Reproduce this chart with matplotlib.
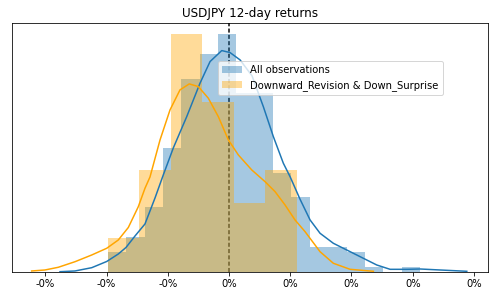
import numpy as np
import matplotlib
matplotlib.use('Agg')
import matplotlib.pyplot as plt
from matplotlib.ticker import FuncFormatter
from matplotlib.patches import Patch

# ============================================================
# 데이터 (12일 수익률 분포, 그림에서 읽은 값)
# ============================================================
title = 'USDJPY 12-day returns'
label_all = 'All observations'
label_sub = 'Downward_Revision & Down_Surprise'

# 전체 관측치 히스토그램 (밀도)
all_bin_lo, all_bin_hi = -0.00198, 0.00312
all_density = [44, 77, 143, 275, 429, 484, 528, 396, 396, 220, 165, 55, 55, 44, 11, 0, 11]

# 부분집합 히스토그램 (밀도)
sub_bin_lo, sub_bin_hi = -0.00198, 0.00111
sub_density = [74, 226, 528, 376, 152, 226]

# KDE 곡선
all_kde_x = [-2.761, -2.516, -2.243, -1.998, -1.809, -1.683, -1.536, -1.373, -1.209,
             -1.074, -0.910, -0.691, -0.474, -0.310, -0.119, 0.016, 0.180, 0.376,
             0.560, 0.724, 0.887, 0.997, 1.160, 1.324, 1.487, 1.704, 1.923, 2.194,
             2.413, 2.631, 2.904, 3.121, 3.448, 3.884]
all_kde_y = [0, 1.6, 8.9, 22.7, 39.3, 53.8, 79.3, 106, 163.8, 214.9, 274.9, 344.4,
             418.7, 466.7, 491.1, 486.7, 470.4, 434.9, 366.7, 300, 240.9, 211.1,
             160.9, 114.9, 85.3, 63.1, 48.2, 29.8, 14.9, 5.3, 5.3, 6.0, 3.8, 0.9]

sub_kde_x = [-3.224, -3.007, -2.789, -2.516, -2.243, -1.998, -1.809, -1.645, -1.482,
             -1.373, -1.291, -1.127, -0.964, -0.801, -0.649, -0.502, -0.338, -0.175,
             -0.011, 0.152, 0.371, 0.588, 0.752, 0.915, 1.078, 1.242, 1.487, 1.704,
             1.977, 2.358]
sub_kde_y = [1.6, 3.8, 9.8, 22.2, 37.1, 52.0, 70.4, 98.2, 144.4, 185.3, 210.4, 292.7,
             359.3, 403.8, 417.1, 411.1, 385.3, 344.4, 292.7, 259.3, 226.0, 200,
             177.8, 148.2, 114.9, 88.9, 44.4, 18.7, 5.3, 0.9]

# KDE x 값은 1/1000 단위로 읽음
all_kde_x = np.array(all_kde_x) / 1000
sub_kde_x = np.array(sub_kde_x) / 1000

c_all = '#1f77b4'
c_sub = 'orange'

# ============================================================
# 시각화
# ============================================================
fig = plt.figure(figsize=(498 / 72, 296 / 72), dpi=72)
ax = fig.add_axes([0.0235, 0.0821, 0.9564, 0.8412])

ax.axvline(0, color='black', linestyle=(0, (2.7, 1.5)), linewidth=1.5, zorder=0.9)

all_edges = np.linspace(all_bin_lo, all_bin_hi, len(all_density) + 1)
ax.bar(all_edges[:-1], all_density, width=np.diff(all_edges), align='edge',
       color=c_all, alpha=0.4, linewidth=0)
ax.plot(all_kde_x, all_kde_y, color=c_all, linewidth=1.5)

sub_edges = np.linspace(sub_bin_lo, sub_bin_hi, len(sub_density) + 1)
ax.bar(sub_edges[:-1], sub_density, width=np.diff(sub_edges), align='edge',
       color=c_sub, alpha=0.4, linewidth=0)
ax.plot(sub_kde_x, sub_kde_y, color=c_sub, linewidth=1.5)

ax.set_xlim(-0.00355, 0.00423)
ax.set_ylim(0, 553)
ax.set_yticks([])
ax.set_xticks([-0.003, -0.002, -0.001, 0, 0.001, 0.002, 0.003, 0.004])
ax.xaxis.set_major_formatter(FuncFormatter(lambda v, p: '{:.0%}'.format(v)))
ax.set_title(title, fontsize=12)

handles = [Patch(facecolor=c_all, alpha=0.4), Patch(facecolor=c_sub, alpha=0.4)]
ax.legend(handles, [label_all, label_sub], loc='upper left',
          bbox_to_anchor=(0.434, 0.847), borderaxespad=0, fontsize=10)

plt.savefig('out.png', dpi=72)
plt.close()
